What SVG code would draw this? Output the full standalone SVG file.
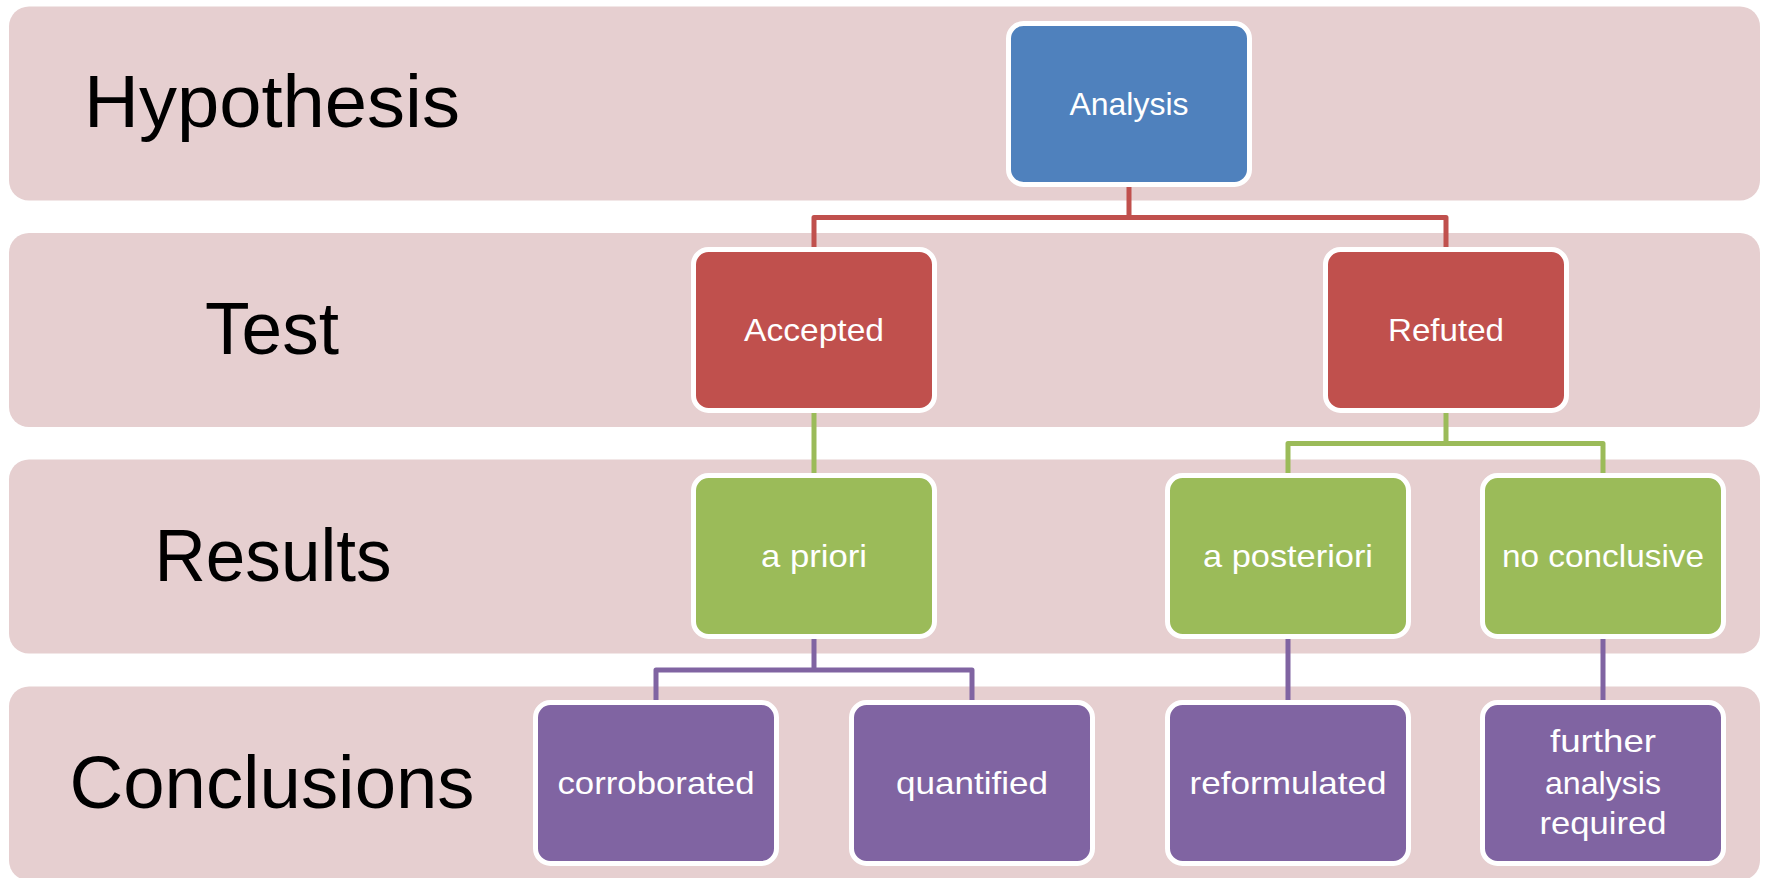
<svg xmlns="http://www.w3.org/2000/svg" width="1768" height="878" viewBox="0 0 1768 878">
  <style>
    .band { fill: #E6CFD0; }
    .lbl { font-family: "Liberation Sans", Arial, sans-serif; font-size: 75px; fill: #000; text-anchor: middle; }
    .box { stroke: #FFFFFF; stroke-width: 5; }
    .t { font-family: "Liberation Sans", Arial, sans-serif; font-size: 32px; fill: #FFFFFF; text-anchor: middle; }
    .blue { fill: #4F81BD; }
    .red { fill: #C0504D; }
    .green { fill: #9BBB59; }
    .purple { fill: #8064A2; }
    .conn { fill: none; stroke-width: 5; stroke-linejoin: round; }
  </style>
  <rect width="1768" height="878" fill="#FFFFFF"/>
  <g id="bands">
    <g id="band-hypothesis">
      <rect class="band" x="9" y="6.5" width="1751" height="194" rx="20"/>
      <text class="lbl" x="272" y="127" textLength="376" lengthAdjust="spacingAndGlyphs">Hypothesis</text>
    </g>
    <g id="band-test">
      <rect class="band" x="9" y="233" width="1751" height="194" rx="20"/>
      <text class="lbl" x="272" y="354" textLength="134" lengthAdjust="spacingAndGlyphs">Test</text>
    </g>
    <g id="band-results">
      <rect class="band" x="9" y="459.5" width="1751" height="194" rx="20"/>
      <text class="lbl" x="273" y="580.7" textLength="237" lengthAdjust="spacingAndGlyphs">Results</text>
    </g>
    <g id="band-conclusions">
      <rect class="band" x="9" y="686.5" width="1751" height="194" rx="20"/>
      <text class="lbl" x="272" y="807.7" textLength="405" lengthAdjust="spacingAndGlyphs">Conclusions</text>
    </g>
  </g>
  <g id="connectors">
    <path class="conn" stroke="#C0504D" d="M1129 184.5 V217.5 M814 249.5 V217.5 H1446 V249.5"/>
    <path class="conn" stroke="#9BBB59" d="M814 411 V475.5 M1446 411 V443.5 M1288 475.5 V443.5 H1603 V475.5"/>
    <path class="conn" stroke="#8064A2" d="M814 637 V670 M656 702.5 V670 H972 V702.5 M1288 637 V702.5 M1603 637 V702.5"/>
  </g>
  <g id="node-analysis">
    <rect class="box blue" x="1008.5" y="23.5" width="241" height="161" rx="15"/>
    <text class="t" x="1129" y="114.5" textLength="119" lengthAdjust="spacingAndGlyphs">Analysis</text>
  </g>
  <g id="node-accepted">
    <rect class="box red" x="693.5" y="249.5" width="241" height="161" rx="15"/>
    <text class="t" x="814" y="340.5" textLength="140" lengthAdjust="spacingAndGlyphs">Accepted</text>
  </g>
  <g id="node-refuted">
    <rect class="box red" x="1325.5" y="249.5" width="241" height="161" rx="15"/>
    <text class="t" x="1446" y="340.5" textLength="116" lengthAdjust="spacingAndGlyphs">Refuted</text>
  </g>
  <g id="node-apriori">
    <rect class="box green" x="693.5" y="475.5" width="241" height="161" rx="15"/>
    <text class="t" x="814" y="566.5" textLength="106" lengthAdjust="spacingAndGlyphs">a priori</text>
  </g>
  <g id="node-aposteriori">
    <rect class="box green" x="1167.5" y="475.5" width="241" height="161" rx="15"/>
    <text class="t" x="1288" y="566.5" textLength="170" lengthAdjust="spacingAndGlyphs">a posteriori</text>
  </g>
  <g id="node-noconclusive">
    <rect class="box green" x="1482.5" y="475.5" width="241" height="161" rx="15"/>
    <text class="t" x="1603" y="566.5" textLength="202" lengthAdjust="spacingAndGlyphs">no conclusive</text>
  </g>
  <g id="node-corroborated">
    <rect class="box purple" x="535.5" y="702.5" width="241" height="161" rx="15"/>
    <text class="t" x="656" y="793.5" textLength="197" lengthAdjust="spacingAndGlyphs">corroborated</text>
  </g>
  <g id="node-quantified">
    <rect class="box purple" x="851.5" y="702.5" width="241" height="161" rx="15"/>
    <text class="t" x="972" y="793.5" textLength="152" lengthAdjust="spacingAndGlyphs">quantified</text>
  </g>
  <g id="node-reformulated">
    <rect class="box purple" x="1167.5" y="702.5" width="241" height="161" rx="15"/>
    <text class="t" x="1288" y="793.5" textLength="197" lengthAdjust="spacingAndGlyphs">reformulated</text>
  </g>
  <g id="node-further">
    <rect class="box purple" x="1482.5" y="702.5" width="241" height="161" rx="15"/>
    <text class="t" x="1603" y="752" textLength="106" lengthAdjust="spacingAndGlyphs">further</text>
    <text class="t" x="1603" y="793.5" textLength="116" lengthAdjust="spacingAndGlyphs">analysis</text>
    <text class="t" x="1603" y="834" textLength="127" lengthAdjust="spacingAndGlyphs">required</text>
  </g>
</svg>
